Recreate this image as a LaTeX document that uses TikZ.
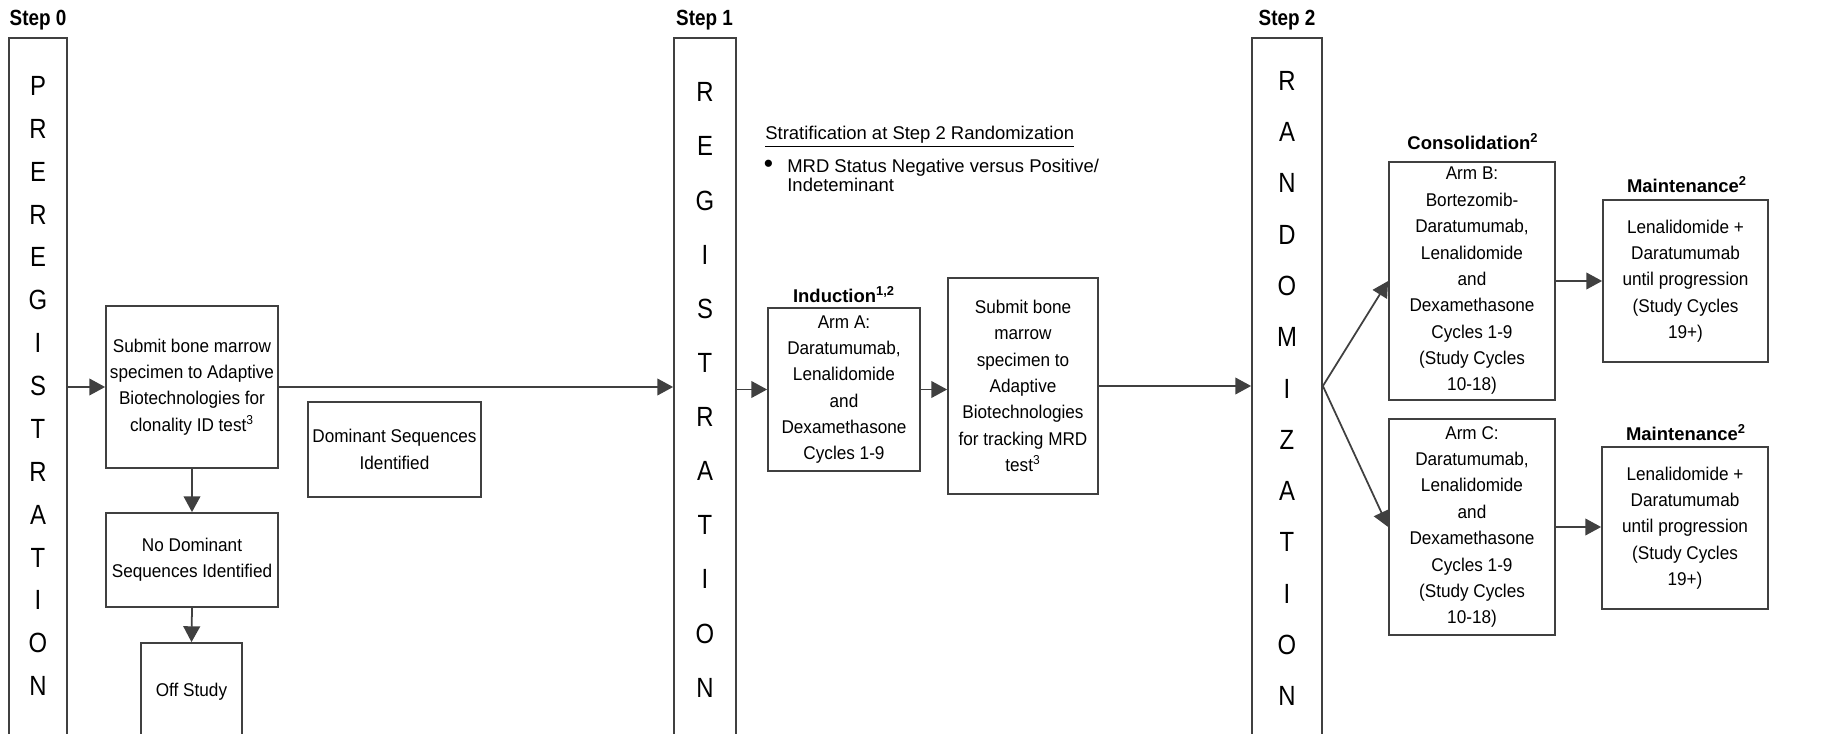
\documentclass[tikz,border=0pt]{standalone}
\usepackage{fontspec}
\setmainfont{Liberation Sans}[FakeStretch=0.93]
\newfontfamily\plainsans{Liberation Sans}
\newfontfamily\narrowsans{Liberation Sans}[FakeStretch=0.86]
\usepackage{tikz}
\usetikzlibrary{arrows.meta, positioning}
\usepackage{xcolor}
\definecolor{linegray}{RGB}{64,64,64}

\tikzset{
	box/.style={draw=linegray, line width=1pt, align=center, inner xsep=1pt, inner ysep=0pt, font=\fontsize{10.5}{15}\selectfont},
	bar/.style={draw=linegray, line width=1pt, minimum height=15cm, anchor=north},
	barletters/.style={align=center, inner sep=0pt},
	steplbl/.style={font=\narrowsans\bfseries\fontsize{12.5}{14}\selectfont},
	head/.style={font=\plainsans\bfseries\fontsize{10.5}{12}\selectfont},
	arr/.style={draw=linegray, line width=1pt, -{Triangle[length=9pt,width=9.5pt]}},
}

\begin{document}
\begin{tikzpicture}
		\useasboundingbox (0,0) rectangle (36.78,14.66);
		\clip (0,0) rectangle (36.78,14.66);
		\node[bar, minimum width=1.16cm] (bar0) at (0.76,13.92) {};
		\node[bar, minimum width=1.24cm] (bar1) at (14.10,13.92) {};
		\node[bar, minimum width=1.40cm] (bar2) at (25.74,13.92) {};
		\node[barletters, font=\narrowsans\fontsize{15.8}{24.4}\selectfont] (prereg) at (0.76,6.94) {P\\R\\E\\R\\E\\G\\I\\S\\T\\R\\A\\T\\I\\O\\N};
		\node[barletters, font=\narrowsans\fontsize{15.8}{30.8}\selectfont] (reg) at (14.10,6.86) {R\\E\\G\\I\\S\\T\\R\\A\\T\\I\\O\\N};
		\node[barletters, font=\narrowsans\fontsize{15.8}{29.2}\selectfont] (rand) at (25.74,6.89) {R\\A\\N\\D\\O\\M\\I\\Z\\A\\T\\I\\O\\N};
		\node[steplbl] (st0) at (0.76,14.26) {Step 0};
		\node[steplbl] (st1) at (14.09,14.26) {Step 1};
		\node[steplbl] (st2) at (25.74,14.26) {Step 2};
		\node[box, minimum width=3.44cm, minimum height=3.24cm] (clon) at (3.84,6.92) {Submit bone marrow\\specimen to Adaptive\\Biotechnologies for\\clonality ID test\textsuperscript{3}};
		\node[box, minimum width=3.44cm, minimum height=1.88cm] (nodom) at (3.84,3.46) {No Dominant\\Sequences Identified};
		\node[box, minimum width=2.02cm, minimum height=1.96cm] (off) at (3.83,0.82) {Off Study};
		\node[box, minimum width=3.46cm, minimum height=1.90cm] (dom) at (7.89,5.67) {Dominant Sequences\\Identified};
		\node[anchor=base west, inner sep=0pt, font=\plainsans\fontsize{10.5}{12}\selectfont] (strat) at (15.30,11.86) {\underline{Stratification at Step 2 Randomization}};
		\node[inner sep=0pt, font=\plainsans\fontsize{15}{16}\selectfont] (bul) at (15.37,11.34) {\textbullet};
		\node[anchor=north west, align=left, inner sep=0pt, font=\plainsans\fontsize{10.5}{10.8}\selectfont] (mrdstat) at (15.74,11.48) {MRD Status Negative versus Positive/\\Indeteminant};
		\node[head] (ind) at (16.88,8.76) {Induction\textsuperscript{1,2}};
		\node[box, minimum width=3.04cm, minimum height=3.26cm] (armA) at (16.88,6.87) {Arm A:\\Daratumumab,\\Lenalidomide\\and\\Dexamethasone\\Cycles 1-9};
		\node[box, minimum width=3.0cm, minimum height=4.32cm] (mrd) at (20.46,6.94) {Submit bone\\marrow\\specimen to\\Adaptive\\Biotechnologies\\for tracking MRD\\test\textsuperscript{3}};
		\node[head] (cons) at (29.46,11.82) {Consolidation\textsuperscript{2}};
		\node[box, minimum width=3.32cm, minimum height=4.76cm] (armB) at (29.44,9.04) {Arm B:\\Bortezomib-\\Daratumumab,\\Lenalidomide\\and\\Dexamethasone\\Cycles 1-9\\(Study Cycles\\10-18)};
		\node[box, minimum width=3.32cm, minimum height=4.32cm] (armC) at (29.44,4.12) {Arm C:\\Daratumumab,\\Lenalidomide\\and\\Dexamethasone\\Cycles 1-9\\(Study Cycles\\10-18)};
		\node[head] (mhB) at (33.74,10.96) {Maintenance\textsuperscript{2}};
		\node[box, minimum width=3.30cm, minimum height=3.24cm] (maintB) at (33.71,9.04) {Lenalidomide +\\Daratumumab\\until progression\\(Study Cycles\\19+)};
		\node[head] (mhC) at (33.72,6.0) {Maintenance\textsuperscript{2}};
		\node[box, minimum width=3.32cm, minimum height=3.24cm] (maintC) at (33.70,4.10) {Lenalidomide +\\Daratumumab\\until progression\\(Study Cycles\\19+)};
		\draw[arr] (bar0.east |- clon.west) -- (clon.west);
		\draw[arr] (clon.east) -- (clon.east -| bar1.west);
		\draw[arr] (clon.south) -- (nodom.north);
		\draw[arr] (nodom.south) -- (off.north);
		\draw[arr] (bar1.east |- armA.west) -- (armA.west);
		\draw[arr] (armA.east) -- (armA.east -| mrd.west);
		\draw[arr] (mrd.east) -- (mrd.east -| bar2.west);
		\coordinate (split) at (bar2.east |- mrd.east);
		\draw[arr] (split) -- (armB.west);
		\draw[arr] (split) -- (armC.west);
		\draw[arr] (armB.east) -- (armB.east -| maintB.west);
		\draw[arr] (armC.east) -- (armC.east -| maintC.west);
	\end{tikzpicture}
\end{document}
